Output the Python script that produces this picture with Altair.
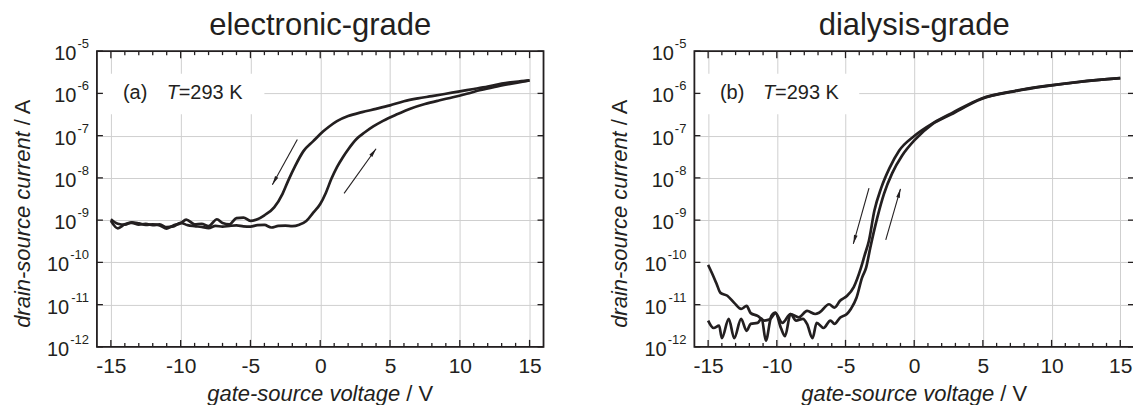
import altair as alt
import pandas as pd

FONT = "Liberation Sans"
INK = "#231f20"
GRID = "#cfcfcf"

# ---------------- data ----------------
# panel (a) electronic-grade: forward sweep (-15 -> 15)
a_fwd_v = [-15, -14.5, -14, -13.5, -13, -12.5, -12, -11.5, -11, -10.5, -10, -9.5, -9, -8.5, -8,
           -7.5, -7, -6.5, -6, -5.5, -5, -4.5, -4, -3.5, -3, -2.5, -2, -1.5, -1, -0.5, 0, 0.4,
           0.8, 1.2, 1.6, 2.0, 2.6, 3.2, 3.8, 4.5, 5.5, 6.5, 7.5, 8.5, 9.5, 10.5, 11.5, 12.5,
           13.5, 14.5, 15]
a_fwd_i = [9.6e-10, 6.4e-10, 8.0e-10, 8.6e-10, 7.8e-10, 8.2e-10, 7.6e-10, 7.9e-10, 6.8e-10,
           7.1e-10, 8.6e-10, 7.6e-10, 7.2e-10, 6.9e-10, 6.5e-10, 7.3e-10, 7.0e-10, 7.3e-10,
           7.5e-10, 7.1e-10, 7.0e-10, 7.6e-10, 7.7e-10, 6.7e-10, 7.3e-10, 7.4e-10, 7.2e-10,
           7.8e-10, 9.5e-10, 1.5e-9, 2.4e-9, 4.4e-9, 9.5e-9, 1.8e-8, 3.0e-8, 4.7e-8, 8.3e-8,
           1.2e-7, 1.65e-7, 2.24e-7, 3.2e-7, 4.4e-7, 5.6e-7, 6.8e-7, 8.1e-7, 9.8e-7, 1.2e-6,
           1.42e-6, 1.65e-6, 1.9e-6, 2.04e-6]
# panel (a): reverse sweep (15 -> -15)
a_rev_v = [15, 14, 13, 12, 11, 10, 9, 8, 7, 6, 5, 4, 3, 2, 1.2, 0.6, 0.2, -0.5, -1.2, -1.8,
           -2.3, -2.7, -3.3, -4.0, -4.5, -5.0, -5.5, -6.0, -6.5, -7.0, -7.4, -8.0, -8.5, -9.0,
           -9.6, -10, -10.5, -11, -11.5, -12, -12.5, -13, -13.5, -14, -14.5, -15]
a_rev_i = [2.04e-6, 1.88e-6, 1.7e-6, 1.45e-6, 1.27e-6, 1.12e-6, 9.8e-7, 8.6e-7, 7.6e-7, 6.5e-7,
           5.2e-7, 4.3e-7, 3.6e-7, 2.9e-7, 2.2e-7, 1.6e-7, 1.25e-7, 7.4e-8, 4.3e-8, 1.9e-8,
           8.5e-9, 4.2e-9, 2.0e-9, 1.3e-9, 1.05e-9, 9.6e-10, 1.15e-9, 1.12e-9, 8.0e-10, 8.6e-10,
           1.05e-9, 7.2e-10, 8.2e-10, 8.0e-10, 1.03e-9, 8.4e-10, 7.6e-10, 6.3e-10, 7.5e-10,
           8.0e-10, 7.7e-10, 8.4e-10, 8.9e-10, 7.8e-10, 8.2e-10, 1.05e-9]

# panel (b) dialysis-grade: forward sweep
b_fwd_v = [-15, -14.6, -14.2, -14.0, -13.5, -13.1, -12.6, -12.2, -11.9, -11.4, -11.1, -10.8,
           -10.4, -10.1, -9.7, -9.4, -9.0, -8.6, -8.1, -7.8, -7.4, -7.1, -6.6, -6.1, -5.8, -5.4,
           -4.9, -4.6, -4.2, -3.8, -3.5, -3.2, -2.7, -2.2, -1.6, -0.9, 0.1, 1.3, 2.7, 4.9, 7.3,
           9.6, 12.0, 15]
b_fwd_i = [4.2e-12, 2.8e-12, 3.2e-12, 1.6e-12, 4.6e-12, 1.6e-12, 4.6e-12, 2.4e-12, 3.5e-12,
           3.7e-12, 4.7e-12, 1.4e-12, 5.4e-12, 6.5e-12, 2.8e-12, 1.8e-12, 6.0e-12, 4.2e-12,
           4.6e-12, 3.5e-12, 1.6e-12, 3.7e-12, 2.8e-12, 4.2e-12, 3.5e-12, 4.9e-12, 6.0e-12,
           8.0e-12, 1.45e-11, 4.3e-11, 7.5e-11, 2.2e-10, 1.1e-9, 4.2e-9, 1.3e-8, 3.3e-8, 8.3e-8,
           1.85e-7, 3.2e-7, 7.4e-7, 1.12e-6, 1.48e-6, 1.86e-6, 2.29e-6]
# panel (b): reverse sweep
b_rev_v = [15, 12, 9.6, 7.3, 4.9, 2.8, 1.4, 0.0, -1.1, -1.8, -2.4, -2.9, -3.3, -3.6, -3.9,
           -4.4, -4.9, -5.4, -5.8, -6.2, -6.9, -7.2, -7.8, -8.4, -9.0, -9.6, -10.1, -10.5,
           -10.9, -11.4, -11.9, -12.2, -12.6, -13.1, -13.6, -14.1, -14.4, -14.7, -15]
b_rev_i = [2.29e-6, 1.88e-6, 1.5e-6, 1.14e-6, 7.6e-7, 3.5e-7, 2.0e-7, 9.8e-8, 4.4e-8, 1.7e-8,
           5.8e-9, 1.66e-9, 3.2e-10, 1.5e-10, 7.0e-11, 2.6e-11, 1.6e-11, 1.23e-11, 8.5e-12,
           1.02e-11, 6.5e-12, 6.0e-12, 7.1e-12, 5.0e-12, 6.0e-12, 3.7e-12, 6.3e-12, 4.5e-12,
           4.2e-12, 5.4e-12, 6.3e-12, 9.3e-12, 7.9e-12, 1.1e-11, 1.62e-11, 1.9e-11, 3.2e-11,
           5.4e-11, 8.7e-11]

# sweep-direction arrows (start -> end)
a_arrow_v0 = [-1.64, 1.71]
a_arrow_i0 = [8.1e-8, 4.3e-9]
a_arrow_v1 = [-3.43, 4.0]
a_arrow_i1 = [6.9e-9, 4.9e-8]
b_arrow_v0 = [-3.29, -2.07]
b_arrow_i0 = [5.75e-9, 3.4e-10]
b_arrow_v1 = [-4.43, -1.0]
b_arrow_i1 = [2.75e-10, 5.5e-9]
a_arrow_angle = [209, 36]
b_arrow_angle = [196, 16]

# axes
decades = [1e-12, 1e-11, 1e-10, 1e-9, 1e-8, 1e-7, 1e-6, 1e-5]
decade_base = ["10"] * 8
decade_exp = ["-12", "-11", "-10", "-9", "-8", "-7", "-6", "-5"]
x_major = [-15, -10, -5, 0, 5, 10, 15]
x_minor = [-14, -13, -12, -11, -9, -8, -7, -6, -4, -3, -2, -1, 1, 2, 3, 4, 6, 7, 8, 9,
           11, 12, 13, 14]

titles = ["electronic-grade", "dialysis-grade"]
tags = ["(a)", "(b)"]
temp_sym = "T"
temp_val = "=293 K"
x_title_main, x_title_unit = "gate-source voltage", "/ V"
y_title_main, y_title_unit = "drain-source current", "/ A"

# ---------------- layout constants ----------------
WA, WB, H = 447, 440, 296
XS = alt.Scale(domain=[-16, 16], nice=False, zero=False)
YS = alt.Scale(type="log", domain=[1e-12, 1e-5], nice=False)
AX = alt.Axis(values=x_major, grid=True, ticks=False, domain=False,
              labelExpr="'' + datum.value", labelFontSize=21, labelFont=FONT,
              labelColor=INK, labelPadding=9, title=None,
              gridColor=GRID, gridWidth=1)
AY = alt.Axis(values=decades, grid=True, labels=False, ticks=False, domain=False,
              title=None, gridColor=GRID, gridWidth=1)
ARROW = "M0,0 L0.5,2.4 L-0.5,2.4 Z"


def X(field):
    return alt.X(field, type="quantitative", scale=XS, axis=AX)


def Y(field):
    return alt.Y(field, type="quantitative", scale=YS, axis=AY)


def panel(W, title, tag, fv, fi, rv, ri, av0, ai0, av1, ai1, angles):
    curves = pd.DataFrame({
        "v": fv + rv,
        "i": fi + ri,
        "sweep": ["forward"] * len(fv) + ["reverse"] * len(rv),
        "k": list(range(len(fv))) + list(range(len(rv))),
    })
    lines = alt.Chart(curves).mark_line(
        color=INK, strokeWidth=2.7, strokeJoin="round", interpolate="monotone"
    ).encode(x=X("v"), y=Y("i"), detail="sweep:N", order="k:Q")

    box = alt.Chart(pd.DataFrame({"x0": [-15.85], "x1": [-4.0],
                                  "y0": [2.9e-6], "y1": [3.2e-7]})).mark_rect(
        fill="white").encode(x=X("x0"), x2="x1", y=Y("y0"), y2="y1")

    frame = alt.Chart(pd.DataFrame({"f": [0]})).mark_rect(
        fill="white", fillOpacity=0, stroke=INK, strokeWidth=1.8).encode(
        x=alt.value(0), x2=alt.value(W), y=alt.value(0), y2=alt.value(H))

    minor = pd.DataFrame({"v": x_minor})
    major = pd.DataFrame({"v": x_major})
    dec = pd.DataFrame({"i": decades, "b": decade_base, "e": decade_exp})

    def xticks(df, y0, y1):
        return alt.Chart(df).mark_rule(color=INK, strokeWidth=1.3).encode(
            x=X("v"), y=alt.value(y0), y2=alt.value(y1))

    def yticks(x0, x1):
        return alt.Chart(dec).mark_rule(color=INK, strokeWidth=1.3).encode(
            y=Y("i"), x=alt.value(x0), x2=alt.value(x1))

    ticks = [xticks(minor, H, H - 4), xticks(minor, 0, 4),
             xticks(major, H, H - 7), xticks(major, 0, 7),
             yticks(0, 6), yticks(W - 6, W)]

    tens = alt.Chart(dec).transform_calculate(
        lx="-9 - 13*(0.333 + 0.556*(length(datum.e) - 1))"
    ).mark_text(align="right", baseline="middle", fontSize=20, dy=3,
                font=FONT, color=INK).encode(
        x=alt.X("lx:Q", scale=None), y=Y("i"), text="b:N")
    exps = alt.Chart(dec).mark_text(align="right", baseline="middle", fontSize=13,
                                    dy=-7, font=FONT, color=INK).encode(
        x=alt.value(-8), y=Y("i"), text="e:N")

    arr = pd.DataFrame({"v0": av0, "i0": ai0, "v1": av1, "i1": ai1, "ang": angles})
    shafts = alt.Chart(arr).mark_rule(color=INK, strokeWidth=1.1).encode(
        x=X("v0"), x2="v1", y=Y("i0"), y2="i1")
    heads = alt.Chart(arr).mark_point(shape=ARROW, filled=True, size=55, color=INK,
                                      opacity=1, strokeWidth=0).encode(
        x=X("v1"), y=Y("i1"), angle=alt.Angle("ang:Q", scale=None))

    ann = pd.DataFrame({"v": [-14.14], "vt": [-11.0], "i": [1e-6], "tag": [tag],
                        "ts": [temp_sym], "tv": [temp_val]})
    t_tag = alt.Chart(ann).mark_text(align="left", baseline="middle", fontSize=20,
                                     font=FONT, color=INK).encode(
        x=X("v"), y=Y("i"), text="tag:N")
    t_sym = alt.Chart(ann).mark_text(align="left", baseline="middle", fontSize=20,
                                     font=FONT, fontStyle="italic", color=INK).encode(
        x=X("vt"), y=Y("i"), text="ts:N")
    t_val = alt.Chart(ann).mark_text(align="left", baseline="middle", fontSize=20, dx=12,
                                     font=FONT, color=INK).encode(
        x=X("vt"), y=Y("i"), text="tv:N")

    tt = pd.DataFrame({"xm": [x_title_main], "xu": [x_title_unit],
                       "ym": [y_title_main], "yu": [y_title_unit]})
    split = W / 2 + 80.1
    xt_main = alt.Chart(tt).mark_text(align="right", baseline="alphabetic", fontSize=22,
                                      font=FONT, fontStyle="italic", color=INK).encode(
        x=alt.value(split), y=alt.value(350), text="xm:N")
    xt_unit = alt.Chart(tt).mark_text(align="left", baseline="alphabetic", fontSize=22,
                                      font=FONT, color=INK).encode(
        x=alt.value(split + 6.1), y=alt.value(350), text="xu:N")
    yt_main = alt.Chart(tt).mark_text(align="right", baseline="middle", fontSize=22, angle=270,
                                      font=FONT, fontStyle="italic", color=INK).encode(
        x=alt.value(-74), y=alt.value(80.2), text="ym:N")
    yt_unit = alt.Chart(tt).mark_text(align="left", baseline="middle", fontSize=22, angle=270,
                                      font=FONT, color=INK).encode(
        x=alt.value(-74), y=alt.value(74.1), text="yu:N")

    return alt.layer(
        lines, box, frame, *ticks, tens, exps, shafts, heads, t_tag, t_sym, t_val,
        xt_main, xt_unit, yt_main, yt_unit
    ).properties(
        width=W, height=H,
        title=alt.TitleParams(text=title, fontSize=31, font=FONT, fontWeight="normal",
                              color=INK, anchor="middle", offset=-4),
    )


pa = panel(WA, titles[0], tags[0], a_fwd_v, a_fwd_i, a_rev_v, a_rev_i,
           a_arrow_v0, a_arrow_i0, a_arrow_v1, a_arrow_i1, a_arrow_angle)
pb = panel(WB, titles[1], tags[1], b_fwd_v, b_fwd_i, b_rev_v, b_rev_i,
           b_arrow_v0, b_arrow_i0, b_arrow_v1, b_arrow_i1, b_arrow_angle)

# the right edge of panel (b) runs to the edge of the picture, as in the original figure
chart = alt.hconcat(pa, pb, spacing=151, bounds="flush").configure_view(
    strokeWidth=0
).properties(
    padding={"left": 3, "top": 2, "right": -2, "bottom": 0}
)

chart.save("out.html", embed_options={"renderer": "svg", "actions": False})
